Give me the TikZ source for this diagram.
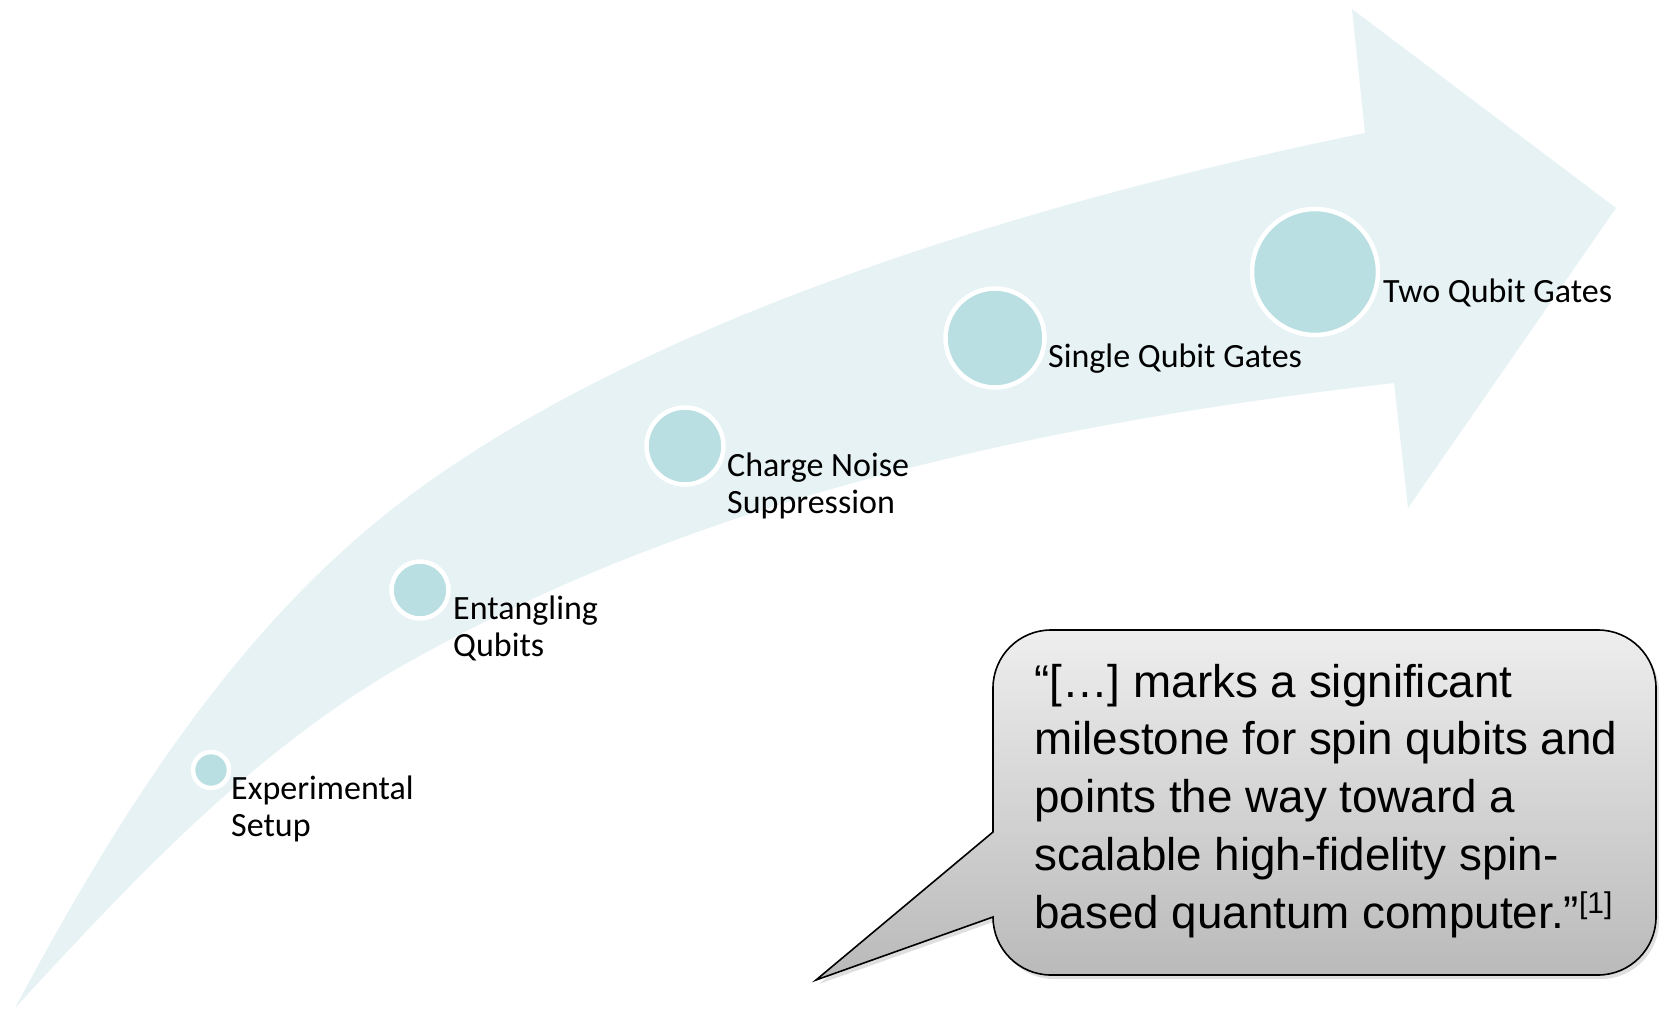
\documentclass[tikz,border=0pt]{standalone}
\usepackage{fontspec}
\setmainfont{Carlito}
\newfontfamily\quotefont{Liberation Sans}
\usetikzlibrary{shadows}
\definecolor{bandfill}{HTML}{E6F2F4}
\definecolor{dotfill}{HTML}{B9DFE2}
\definecolor{bubbletop}{HTML}{EEEEEE}
\definecolor{bubblebottom}{HTML}{B9B9B9}
\begin{document}
\begin{tikzpicture}[x=1pt,y=-1pt,
  dot/.style={circle, fill=dotfill, draw=white, line width=4.5pt, inner sep=0pt},
  % multi-line nodes are anchored at the baseline of their last line
  lbl/.style={anchor=base west, inner sep=0pt, align=left,
              font=\fontsize{34}{37.5}\selectfont},
  bubble/.style={draw=black, line width=1.6pt, line join=miter,
                 top color=bubbletop, bottom color=bubblebottom,
                 drop shadow={opacity=0.25, shadow xshift=3pt, shadow yshift=-4pt}},
  quote/.style={anchor=base west, inner sep=0pt, align=left,
                font=\quotefont\fontsize{45.8}{57.75}\selectfont}
  ]
\useasboundingbox (0,0) rectangle (1663,1009);

% curved band with its arrow head
\fill[bandfill]
  (15,1008) .. controls (115,821) and (232,632) .. (400,503)
  .. controls (638,321) and (1028,202) .. (1365,133)
  -- (1352,9) -- (1616,208) -- (1408,508) -- (1394,383)
  .. controls (1051,422) and (699,496) .. (400,667)
  .. controls (252,752) and (131,882) .. (15,1008)
  -- cycle;

% milestones
\node[dot, minimum size=36pt]  (m1) at (211,770) {};
\node[dot, minimum size=57pt]  (m2) at (420,590) {};
\node[dot, minimum size=77pt]  (m3) at (685,446) {};
\node[dot, minimum size=99pt]  (m4) at (995,338) {};
\node[dot, minimum size=126pt] (m5) at (1315,272) {};

\node[lbl] (t1) at (231,836.5) {Experimental\\Setup};
\node[lbl] (t2) at (453,656.5) {Entangling\\Qubits};
\node[lbl] (t3) at (727,513.5) {Charge Noise\\Suppression};
\node[lbl] (t4) at (1048,367)  {Single Qubit Gates};
\node[lbl] (t5) at (1383,302)  {Two Qubit Gates};

% speech bubble
\path[bubble] (993,832) -- (993,688)
  .. controls (993,656) and (1019,630) .. (1051,630)
  -- (1598,630)
  .. controls (1630,630) and (1656,656) .. (1656,688)
  -- (1656,917)
  .. controls (1656,949) and (1630,975) .. (1598,975)
  -- (1051,975)
  .. controls (1019,975) and (993,949) .. (993,917)
  -- (816,980) -- cycle;

\node[quote] (q) at (1034,928) {“[…] marks a significant\\
  milestone for spin qubits and\\
  points the way toward a\\
  scalable high-fidelity spin-\\
  based quantum computer.”\raisebox{15pt}{\fontsize{30}{30}\selectfont[1]}};
\end{tikzpicture}
\end{document}
